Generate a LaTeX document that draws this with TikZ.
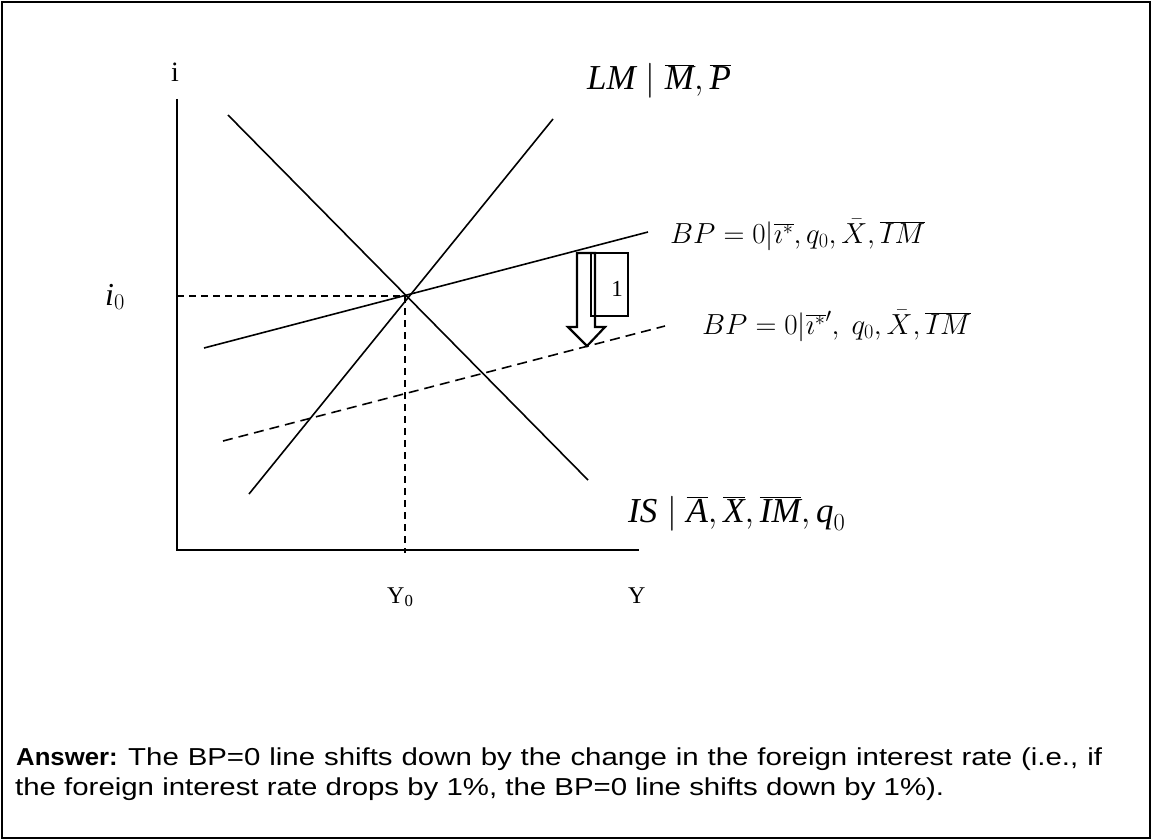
\RequirePackage{fix-cm}
\documentclass[tikz,border=0pt]{standalone}
\usepackage{fontspec}
\setmainfont{Liberation Serif}
\newfontfamily\arialbold{Liberation Sans}[FakeStretch=1.05]
\newfontfamily\arialwide{Liberation Sans}[FakeStretch=1.2]
\newcommand{\ti}[1]{\mbox{\itshape #1}}
\begin{document}
\begin{tikzpicture}[x=1pt,y=-1pt,
  curve/.style={line width=1.6pt},
  axis/.style={line width=1.8pt},
  guide/.style={line width=1.4pt,dash pattern=on 7pt off 5pt},
  shifted/.style={line width=1.6pt,dash pattern=on 10pt off 6pt},
  lbl/.style={inner sep=0pt,anchor=base west},
  bigit/.style={font=\fontsize{35}{40}\selectfont},
  mathlbl/.style={font=\fontsize{29}{34}\selectfont},
  serif/.style={font=\fontsize{24}{28}\selectfont},
  anstext/.style={inner sep=0pt,anchor=base west,font=\arialwide\fontsize{24.5}{30}\selectfont}]
\useasboundingbox (0,0) rectangle (1152,840);
\draw[line width=2pt] (2,2) rectangle (1150,838);
% axes
\coordinate (ytop) at (177,99);
\coordinate (orig) at (177,550);
\coordinate (xend) at (639,550);
\draw[axis] (ytop) -- (orig) -- (xend);
% equilibrium
\coordinate (E) at (405,296);
\coordinate (iax) at (177,296);
\coordinate (yax) at (405,553);
\draw[guide] (iax) -- (E);
\draw[guide] (E) -- (yax);
% curves
\coordinate (lma) at (249,494);
\coordinate (lmb) at (553,119);
\coordinate (isa) at (228,115);
\coordinate (isb) at (588,480);
\coordinate (bpa) at (204,348);
\coordinate (bpb) at (648,232);
\coordinate (bqa) at (223,441);
\coordinate (bqb) at (665,326);
\draw[curve] (lma) -- (lmb);
\draw[curve] (isa) -- (isb);
\draw[curve] (bpa) -- (bpb);
\draw[shifted] (bqa) -- (bqb);
% shift arrow
\draw[line width=2.2pt,line join=miter] (577,253) -- (595,253) -- (595,327) -- (605,327) -- (587,346) -- (568,327) -- (577,327) -- cycle;
\draw[line width=1.2pt] (591,253) rectangle (628,316);
\node[inner sep=0pt,font=\fontsize{23}{26}\selectfont] (one) at (617,289) {1};
% labels
\node[inner sep=0pt,anchor=base,font=\fontsize{28}{32}\selectfont] (ilbl) at (175,82) {i};
\node[lbl,bigit] (lmlbl) at (587,90) {$\ti{LM}\mid\overline{\ti{M}},\overline{\ti{P}}$};
\node[lbl,mathlbl] (bp1) at (670,243) {$BP=0|\overline{\imath^*},q_0,\bar{X},\overline{IM}$};
\node[lbl,mathlbl] (bp2) at (702,334) {$BP=0|\overline{\imath^*}',\ q_0,\bar{X},\overline{IM}$};
\node[lbl,font=\fontsize{32}{36}\selectfont] (i0) at (105,305) {$\ti{i}_0$};
\node[lbl,bigit] (islbl) at (628,522) {$\ti{IS}\mid\overline{\ti{A}},\overline{\ti{X}},\overline{\ti{I}}\overline{\ti{M}},\ti{q}_0$};
\node[lbl,serif] (y0) at (387,603) {Y\textsubscript{0}};
\node[lbl,serif] (ylbl) at (628,603) {Y};
\node[inner sep=0pt,anchor=base west,font=\arialbold\bfseries\fontsize{24.5}{30}\selectfont] (ansb) at (16,765) {Answer:};
\node[anstext] (ans1) at (128,765)
  {\hbox to 974pt{The BP=0 line shifts down by the change in the foreign interest rate (i.e., if}};
\node[anstext] (ans2) at (15,795)
  {the foreign interest rate drops by 1\%, the BP=0 line shifts down by 1\%).};
\end{tikzpicture}
\end{document}
